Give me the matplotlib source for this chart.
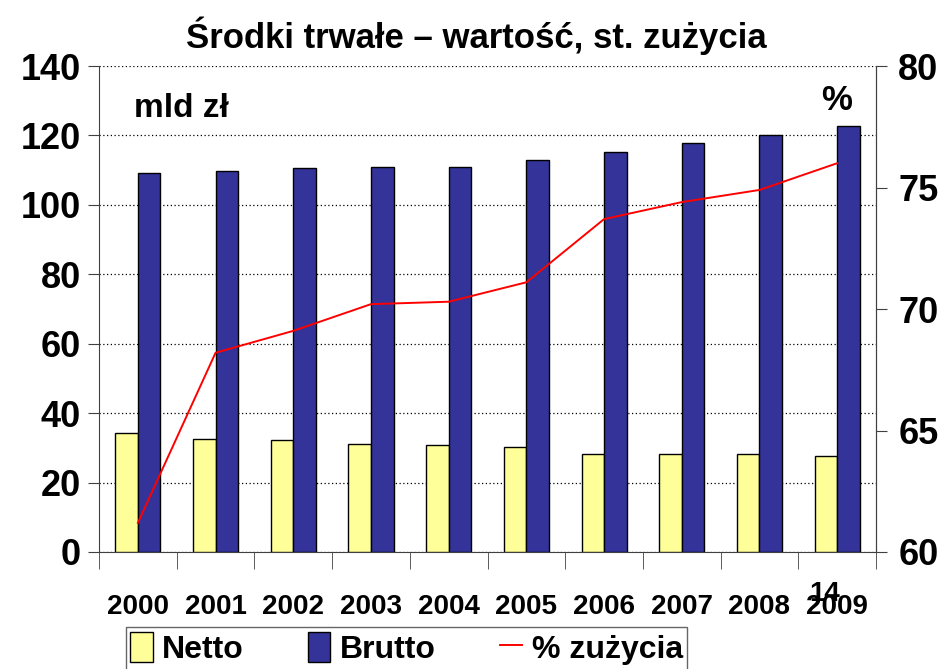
import numpy as np
import matplotlib.pyplot as plt
from matplotlib.ticker import MultipleLocator

years = ['2000', '2001', '2002', '2003', '2004', '2005', '2006', '2007', '2008', '2009']
netto = [34.3, 32.6, 32.3, 31.1, 30.8, 30.2, 28.2, 28.2, 28.2, 27.7]
brutto = [109.2, 109.8, 110.6, 110.9, 110.9, 112.9, 115.2, 117.8, 120.1, 122.7]
zuzycie = [61.2, 68.2, 69.1, 70.2, 70.3, 71.1, 73.7, 74.4, 74.9, 76.0]

plt.rcParams['font.family'] = ['Liberation Sans', 'DejaVu Sans']

fig = plt.figure(figsize=(9.44, 6.69), dpi=100)
ax = fig.add_axes([0.1049, 0.1749, 0.8231, 0.7264])

x = np.arange(len(years))
w = 0.29
ax.bar(x - w / 2, netto, w, color='#ffff99', edgecolor='black', linewidth=1, label='Netto', zorder=3)
ax.bar(x + w / 2, brutto, w, color='#333399', edgecolor='black', linewidth=1, label='Brutto', zorder=3)

ax.set_xlim(-0.5, len(years) - 0.5)
ax.set_ylim(0, 140)
ax.yaxis.set_major_locator(MultipleLocator(20))
ax.grid(axis='y', color='black', linestyle=(0, (1, 2)), linewidth=0.9, zorder=0)
ax.spines['top'].set_visible(False)
for s in ['left', 'right', 'bottom']:
    ax.spines[s].set_color('#404040')

ax.set_xticks(x)
ax.set_xticklabels(years, fontsize=20, fontweight='bold')
ax.tick_params(axis='x', length=0, pad=30)
ax.set_xticks(np.arange(len(years) + 1) - 0.5, minor=True)
ax.tick_params(axis='x', which='minor', length=12, color='#404040')
ax.tick_params(axis='y', labelsize=26, length=8, color='#404040', pad=5)
for t in ax.get_yticklabels():
    t.set_fontweight('bold')

ax2 = ax.twinx()
ax2.plot(x, zuzycie, color='red', linewidth=1.4, label='% zużycia', zorder=4)
ax2.set_ylim(60, 80)
ax2.yaxis.set_major_locator(MultipleLocator(5))
ax2.tick_params(axis='y', labelsize=26, length=8, color='#404040', pad=8)
for t in ax2.get_yticklabels():
    t.set_fontweight('bold')
for s in ['top', 'left', 'bottom']:
    ax2.spines[s].set_visible(False)
ax2.spines['right'].set_color('#404040')

fig.text(0.505, 0.946, 'Środki trwałe – wartość, st. zużycia', ha='center', va='center',
         fontsize=25, fontweight='bold')
fig.text(0.142, 0.838, 'mld zł', fontsize=24, fontweight='bold', va='center')
fig.text(0.886, 0.85, '%', fontsize=25, fontweight='bold', ha='center', va='center')
fig.text(0.874, 0.112, '14', fontsize=20, fontweight='bold', ha='center', va='center')

h1, l1 = ax.get_legend_handles_labels()
h2, l2 = ax2.get_legend_handles_labels()
leg = fig.legend(h1 + h2, l1 + l2, loc='upper left', bbox_to_anchor=(0.133, 0.063), ncol=3,
                 frameon=True, fancybox=False, edgecolor='#404040', handlelength=0.7,
                 handleheight=1.1, handletextpad=0.3, columnspacing=2.0, borderpad=0.15,
                 borderaxespad=0, prop={'weight': 'bold', 'size': 23})
leg.get_frame().set_linewidth(1)

fig.savefig('out.png', dpi=100)
